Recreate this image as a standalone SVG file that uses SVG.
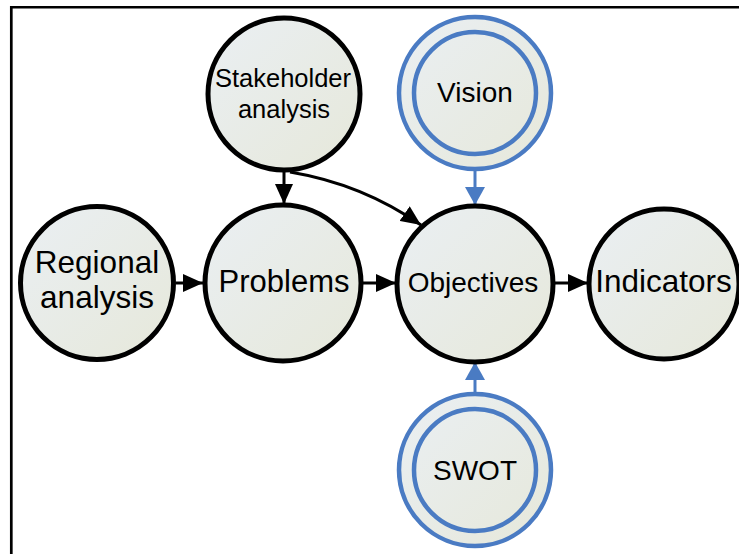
<svg xmlns="http://www.w3.org/2000/svg" width="739" height="554" viewBox="0 0 739 554">
<defs>
<linearGradient id="fillg" x1="0" y1="0" x2="1" y2="1">
<stop offset="0" stop-color="#eaeff3"/>
<stop offset="1" stop-color="#e6e8da"/>
</linearGradient>
<marker id="ahB" viewBox="0 0 20 18" markerWidth="20" markerHeight="18" refX="20" refY="9" orient="auto" markerUnits="userSpaceOnUse">
<path d="M0,0 L20,9 L0,18 z" fill="#000"/>
</marker>
<marker id="ahU" viewBox="0 0 20 20" markerWidth="20" markerHeight="20" refX="18" refY="10" orient="auto" markerUnits="userSpaceOnUse">
<path d="M0,0 L18,10 L0,20 z" fill="#4a7bc3"/>
</marker>
<style>
.n{fill:url(#fillg);stroke:#000;stroke-width:5}
.b{fill:url(#fillg);stroke:#4a7bc3;stroke-width:4.5}
.bi{fill:none;stroke:#4a7bc3;stroke-width:4.5}
.t{font-family:"Liberation Sans",Arial,sans-serif;fill:#000;text-anchor:middle}
.c{fill:none;stroke:#000;stroke-width:3}
.cb{fill:none;stroke:#4a7bc3;stroke-width:3}
</style>
</defs>
<g id="frame">
<line x1="10" y1="7.2" x2="739" y2="7.2" stroke="#000" stroke-width="2.6"/>
<line x1="11.3" y1="6" x2="11.3" y2="554" stroke="#000" stroke-width="2.7"/>
</g>
<g id="connectors">
<path class="c" d="M176,283 L203,283" marker-end="url(#ahB)"/>
<path class="c" d="M363,283 L396,283" marker-end="url(#ahB)"/>
<path class="c" d="M554,283 L588,283" marker-end="url(#ahB)"/>
<path class="c" d="M284,171 L284,204" marker-end="url(#ahB)"/>
<path class="c" d="M290,172 Q362,184 421,225" marker-end="url(#ahB)"/>
<path class="cb" d="M475,170 L475,205" marker-end="url(#ahU)"/>
<path class="cb" d="M475,393 L475,362" marker-end="url(#ahU)"/>
</g>
<g id="stakeholder">
<circle class="n" cx="284" cy="94" r="76"/>
<text class="t" x="283" y="87" font-size="25.5">Stakeholder</text>
<text class="t" x="284" y="118" font-size="25.5">analysis</text>
</g>
<g id="vision">
<circle class="b" cx="475" cy="93" r="76"/>
<circle class="bi" cx="475" cy="93" r="61"/>
<text class="t" x="475" y="102" font-size="28">Vision</text>
</g>
<g id="regional">
<circle class="n" cx="97" cy="283" r="76.5"/>
<text class="t" x="97" y="273" font-size="31.5">Regional</text>
<text class="t" x="97" y="308" font-size="31.5">analysis</text>
</g>
<g id="problems">
<circle class="n" cx="283" cy="283" r="78"/>
<text class="t" x="284" y="292" font-size="31">Problems</text>
</g>
<g id="objectives">
<circle class="n" cx="475" cy="284" r="78"/>
<text class="t" x="473" y="292" font-size="28">Objectives</text>
</g>
<g id="indicators">
<circle class="n" cx="664" cy="284" r="75"/>
<text class="t" x="663.5" y="292" font-size="31.5">Indicators</text>
</g>
<g id="swot">
<circle class="b" cx="475" cy="470" r="76"/>
<circle class="bi" cx="475" cy="470" r="61"/>
<text class="t" x="475" y="480" font-size="28">SWOT</text>
</g>
</svg>
